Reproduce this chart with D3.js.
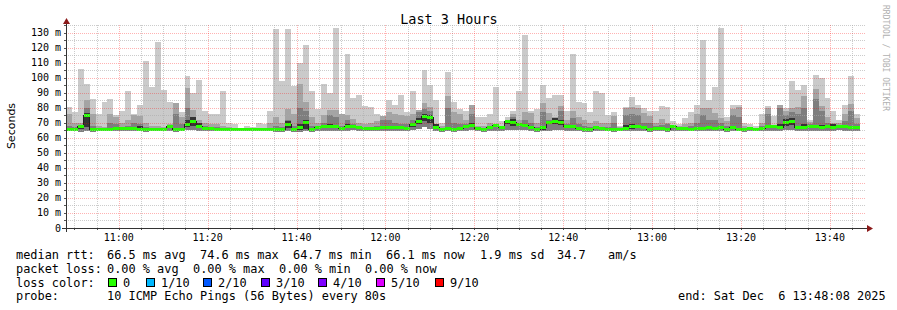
<!DOCTYPE html>
<html>
<head>
<meta charset="utf-8">
<script src="https://cdnjs.cloudflare.com/ajax/libs/d3/7.8.5/d3.min.js"></script>
<style>
  body { margin: 0; background: #fff; }
  text { font-family: "DejaVu Sans Mono", monospace; fill: #000; }
</style>
</head>
<body>
<svg id="chart" width="897" height="310"></svg>
<script>
// Median rtt per 80s step (ms)
const median = [
  65.6, 65.6, 67.4, 74.8, 65.6, 65.6, 65.8, 65.6, 66.0, 66.0, 66.2, 66.4, 65.8, 65.6, 65.6,
  65.6, 65.6, 67.4, 65.8, 65.6, 68.6, 71.1, 67.4, 66.5, 66.0, 65.6, 65.6, 65.6, 65.6, 65.4,
  65.6, 65.6, 65.6, 65.6, 65.6, 65.8, 65.6, 68.8, 65.6, 66.7, 70.0, 65.6, 66.7, 67.4, 67.8,
  67.8, 66.1, 67.8, 67.4, 66.7, 66.1, 66.1, 66.3, 66.7, 67.0, 66.7, 66.7, 66.1, 68.7, 71.1,
  74.4, 73.3, 66.7, 65.6, 66.1, 65.6, 66.1, 67.8, 68.3, 66.1, 65.2, 66.7, 68.3, 66.7, 71.1,
  70.0, 68.7, 68.3, 66.7, 65.2, 66.7, 70.0, 71.1, 70.4, 67.8, 67.4, 66.5, 65.6, 65.2, 66.7,
  66.1, 65.6, 65.2, 65.6, 66.1, 67.8, 67.8, 66.7, 65.2, 66.1, 66.5, 65.2, 67.8, 66.1, 66.1,
  65.6, 66.5, 66.1, 66.9, 66.5, 66.7, 65.6, 66.9, 65.6, 65.6, 66.1, 65.6, 66.5, 67.8, 67.4,
  66.7, 70.0, 71.1, 66.7, 66.7, 67.8, 67.4, 66.7, 67.4, 66.7, 67.8, 67.4, 66.7, 66.7
];

// Slowest ping of each step (top of the light smoke)
const maxRtt = [
  80.5, 77, 106, 96, 86, 75.5, 84, 85.6, 75, 78, 91, 75.7, 82, 110.8, 93.6,
  124, 91.6, 84, 83, 77, 100.8, 90, 98.7, 77.7, 75.6, 76, 91, 69.6, 69, 66,
  67.8, 67, 69.6, 69, 78, 132.6, 97.5, 132.6, 94.7, 109.7, 121.8, 91, 79, 96, 90,
  132.8, 76, 116, 86.5, 88.3, 81, 80.5, 75.5, 72.6, 85, 81.5, 88.7, 77, 91, 76,
  104.8, 95, 85.4, 70, 103.5, 84, 79, 77.7, 81.5, 74, 74, 76, 93.6, 71, 74,
  78, 91, 128.4, 77.7, 79, 95, 86.5, 88.7, 88.7, 77.7, 116, 84, 83, 77, 91,
  90, 74.9, 77, 67.8, 80.5, 87.2, 82, 80, 77.7, 77.7, 81, 80.5, 71, 69, 73,
  77, 82, 125, 85, 93.6, 132.7, 74, 82, 82, 70, 69, 68, 75.6, 81, 74.5,
  81.5, 80, 97.5, 91.6, 95, 72, 102, 99.5, 86.5, 77.7, 72, 81.5, 100.8, 76
];

// 9th of 10 pings (top of the mid grey smoke)
const ping9 = [
  76, 70, 70, 85, 75.5, 68, 67, 76, 74, 70, 72, 75, 74.4, 70, 68,
  68, 67, 69, 83, 74, 93, 78.7, 72, 70, 69, 69, 68, 67, 66.5, 65.9,
  66.5, 66.5, 66.5, 66.5, 70, 74, 70, 79, 75.5, 96, 84, 74, 70, 75, 78.7,
  78.7, 76, 75, 72.5, 70, 69, 70, 71, 74.4, 77, 75.5, 75, 74.4, 76, 78.7,
  83, 80.5, 69, 67.8, 87.6, 77, 75.5, 72, 81.5, 68, 67.8, 70, 69, 67.8, 71.5,
  76, 72, 77, 76.6, 70, 83, 76.6, 74, 81, 72, 77.8, 74, 72, 70, 71,
  70, 70, 74.8, 67.4, 79.9, 80.5, 79.9, 76.6, 74.8, 70, 72.7, 70, 68.7, 67.8, 68.9,
  70, 75.6, 79.9, 79.9, 76.3, 73.3, 71.1, 79.2, 80.5, 67.8, 67.4, 66.7, 70, 79.9, 67.8,
  81.5, 78, 79.9, 80.5, 88.1, 70.4, 92.5, 81, 73.9, 70, 70, 75.6, 82.2, 73.3
];

// 8th of 10 pings (top of the dark grey smoke)
const ping8 = [
  68, 67, 68.5, 80, 68, 66.5, 66.5, 70, 69, 67.5, 68, 70, 69, 67, 66.5,
  66.5, 66.5, 68, 75.5, 69, 80, 74, 69, 68, 67, 67, 66.5, 66.5, 66, 65.8,
  66, 66, 66, 66, 66.5, 68, 67, 72, 68, 80, 78, 68, 67, 70, 75,
  74, 68, 72, 69, 67.5, 67, 67, 68, 72, 72, 70, 69, 69, 72, 77,
  79, 78, 67.5, 66.5, 80, 70, 69, 69, 76, 67, 66.5, 68, 68.8, 67.5, 71.4,
  73.5, 70, 72, 70, 67, 77, 72, 73, 78, 69, 73, 69, 68, 67, 68,
  67, 67, 70, 66.8, 75, 76, 75, 70, 70, 68, 68.5, 69, 68.2, 67, 67,
  68, 70, 75, 72, 72, 70, 68, 75, 74, 66.8, 66.8, 66.2, 68, 76, 67.6,
  80, 75, 77, 76, 80, 69, 86, 78, 70, 68, 68.5, 71, 78, 69
];

// Fastest ping of each step (bottom of the smoke)
const minRtt = [
  64.2, 64.5, 64.0, 64.8, 64.0, 64.3, 64.5, 64.2, 64.6, 64.4, 64.5, 64.8, 64.2, 64.0, 64.4,
  64.5, 64.3, 64.8, 64.0, 64.2, 65.0, 65.5, 64.8, 64.5, 64.3, 64.4, 64.2, 64.5, 64.4, 64.3,
  64.5, 64.4, 64.2, 64.4, 64.3, 64.1, 64.0, 64.5, 64.0, 63.9, 64.2, 64.0, 64.3, 64.5, 64.8,
  64.6, 64.3, 64.8, 64.9, 64.5, 64.3, 64.2, 64.4, 64.7, 64.6, 64.5, 64.8, 64.3, 65.2, 66.0,
  67.5, 66.0, 64.6, 64.0, 64.2, 64.1, 64.4, 64.8, 65.0, 64.4, 64.0, 64.5, 64.8, 64.5, 65.2,
  65.0, 65.3, 64.9, 64.6, 64.0, 64.5, 64.8, 65.0, 64.9, 64.6, 64.5, 64.4, 64.0, 63.9, 64.5,
  64.3, 64.2, 64.0, 64.3, 64.5, 64.8, 64.7, 64.5, 64.0, 64.4, 64.6, 63.9, 64.8, 64.5, 64.3,
  64.2, 64.6, 64.3, 64.7, 64.5, 64.5, 64.0, 64.6, 64.2, 64.1, 64.4, 64.3, 64.5, 64.8, 64.6,
  64.4, 65.0, 65.5, 64.5, 64.6, 64.8, 64.7, 64.4, 64.8, 64.5, 64.9, 64.6, 64.4, 64.5
];

// Darkest smoke blocks around the median: [step, low ms, high ms]
const coreBlocks = [
  [2, 66, 67.5], [3, 67, 76.5], [12, 66, 68], [20, 67, 72], [21, 68, 74], [22, 66.5, 70],
  [37, 66.5, 71], [39, 65.5, 69], [40, 66, 72], [44, 66.5, 69], [47, 66.5, 69], [54, 66, 68],
  [58, 67, 70], [59, 69, 73], [60, 71, 76], [61, 70, 75], [62, 66, 69], [68, 67, 70],
  [74, 69, 72], [75, 68, 72.5], [80, 65.5, 68], [82, 69, 73], [83, 68.5, 72], [94, 66.5, 68.5],
  [95, 66, 69], [120, 66.5, 69], [121, 68, 72.5], [122, 68.5, 73], [124, 66, 69],
  [127, 66, 68.5], [129, 66, 69], [132, 66, 68]
];

// Axis labels
const yTickValues = [0, 10, 20, 30, 40, 50, 60, 70, 80, 90, 100, 110, 120, 130];
const yTickLabels = ['0', '10 m', '20 m', '30 m', '40 m', '50 m', '60 m', '70 m',
  '80 m', '90 m', '100 m', '110 m', '120 m', '130 m'];
const xTickLabels = ['11:00', '11:20', '11:40', '12:00', '12:20', '12:40', '13:00', '13:20', '13:40'];

// Loss colour legend
const lossLabels = ['0', '1/10', '2/10', '3/10', '4/10', '5/10', '9/10'];
const lossColors = ['#26ff00', '#00b8ff', '#0059ff', '#5e00ff', '#7e00ff', '#dd00ff', '#ff0000'];

// Time window
const startTime = Date.UTC(2025, 11, 6, 10, 48, 8);
const endTime = Date.UTC(2025, 11, 6, 13, 48, 8);
const stepMs = 80 * 1000;

const svg = d3.select('#chart');

// Plot area
const plot = { left: 66, right: 866, top: 25, bottom: 228 };

const x = d3.scaleUtc()
  .domain([new Date(startTime), new Date(endTime)])
  .range([plot.left, plot.right]);

const y = d3.scaleLinear()
  .domain([0, 135])
  .range([plot.bottom, plot.top]);

// One row per measurement step
const rows = median.map((m, i) => ({
  t0: new Date(startTime + i * stepMs),
  t1: new Date(startTime + (i + 1) * stepMs),
  median: m,
  max: maxRtt[i],
  p9: ping9[i],
  p8: ping8[i],
  lo: minRtt[i]
}));

const smoke = svg.append('g').attr('shape-rendering', 'crispEdges');

// Smoke layers, lightest first
const layers = [
  { key: 'max', color: '#cacaca' },
  { key: 'p9', color: '#a4a4a4' },
  { key: 'p8', color: '#7e7e7e' }
];

layers.forEach(layer => {
  smoke.append('g')
    .selectAll('rect')
    .data(rows)
    .enter().append('rect')
    .attr('x', d => x(d.t0))
    .attr('width', d => x(d.t1) - x(d.t0))
    .attr('y', d => y(d[layer.key]))
    .attr('height', d => y(d.lo) - y(d[layer.key]))
    .attr('fill', layer.color);
});

smoke.append('g')
  .selectAll('rect')
  .data(coreBlocks)
  .enter().append('rect')
  .attr('x', d => x(rows[d[0]].t0))
  .attr('width', d => x(rows[d[0]].t1) - x(rows[d[0]].t0))
  .attr('y', d => y(d[2]))
  .attr('height', d => y(d[1]) - y(d[2]))
  .attr('fill', '#343434');

// Median as a step line
const stepPoints = rows.map(d => [d.t0, d.median]);
stepPoints.push([rows[rows.length - 1].t1, rows[rows.length - 1].median]);

svg.append('path')
  .datum(stepPoints)
  .attr('fill', 'none')
  .attr('stroke', '#202020')
  .attr('stroke-width', 1)
  .attr('shape-rendering', 'crispEdges')
  .attr('d', d3.line().x(d => x(d[0])).y(d => y(d[1])).curve(d3.curveStepAfter));

// Loss coloured band on the median (all 0 loss here)
svg.append('g')
  .attr('shape-rendering', 'crispEdges')
  .selectAll('rect')
  .data(rows)
  .enter().append('rect')
  .attr('x', d => x(d.t0))
  .attr('width', d => x(d.t1) - x(d.t0))
  .attr('y', d => y(d.median) - 1.5)
  .attr('height', 3)
  .attr('fill', lossColors[0]);

// Grid, drawn on top like rrdtool
const grid = svg.append('g').attr('shape-rendering', 'crispEdges');

const minorTimes = x.ticks(d3.utcMinute.every(5));
const majorTimes = x.ticks(d3.utcMinute.every(20));
const yMinor = d3.range(5, 136, 10);

grid.selectAll('.vminor')
  .data(minorTimes.filter(t => t.getUTCMinutes() % 20 !== 0))
  .enter().append('line')
  .attr('x1', d => Math.round(x(d)) + 0.5)
  .attr('x2', d => Math.round(x(d)) + 0.5)
  .attr('y1', plot.top)
  .attr('y2', plot.bottom)
  .attr('stroke', 'rgba(170,170,170,0.6)')
  .attr('stroke-dasharray', '1,1');

grid.selectAll('.hminor')
  .data(yMinor)
  .enter().append('line')
  .attr('x1', plot.left)
  .attr('x2', plot.right)
  .attr('y1', d => Math.round(y(d)) + 0.5)
  .attr('y2', d => Math.round(y(d)) + 0.5)
  .attr('stroke', 'rgba(170,170,170,0.6)')
  .attr('stroke-dasharray', '1,1');

grid.selectAll('.vmajor')
  .data(majorTimes)
  .enter().append('line')
  .attr('x1', d => Math.round(x(d)) + 0.5)
  .attr('x2', d => Math.round(x(d)) + 0.5)
  .attr('y1', plot.top)
  .attr('y2', plot.bottom)
  .attr('stroke', 'rgba(255,0,0,0.3)')
  .attr('stroke-dasharray', '1,1');

grid.selectAll('.hmajor')
  .data(yTickValues.filter(v => v > 0))
  .enter().append('line')
  .attr('x1', plot.left)
  .attr('x2', plot.right)
  .attr('y1', d => Math.round(y(d)) + 0.5)
  .attr('y2', d => Math.round(y(d)) + 0.5)
  .attr('stroke', 'rgba(255,0,0,0.3)')
  .attr('stroke-dasharray', '1,1');

// Axis ticks
grid.selectAll('.ytick')
  .data(yTickValues.concat(yMinor))
  .enter().append('line')
  .attr('x1', plot.left - 2)
  .attr('x2', plot.left)
  .attr('y1', d => Math.round(y(d)) + 0.5)
  .attr('y2', d => Math.round(y(d)) + 0.5)
  .attr('stroke', '#555');

grid.selectAll('.xtick')
  .data(minorTimes)
  .enter().append('line')
  .attr('x1', d => Math.round(x(d)) + 0.5)
  .attr('x2', d => Math.round(x(d)) + 0.5)
  .attr('y1', plot.bottom)
  .attr('y2', plot.bottom + 2)
  .attr('stroke', '#555');

// Axis lines and arrows
grid.append('line')
  .attr('x1', plot.left - 4).attr('x2', plot.right + 2)
  .attr('y1', plot.bottom + 0.5).attr('y2', plot.bottom + 0.5)
  .attr('stroke', '#333');

grid.append('line')
  .attr('x1', plot.left + 0.5).attr('x2', plot.left + 0.5)
  .attr('y1', plot.bottom + 4).attr('y2', plot.top - 2)
  .attr('stroke', '#333');

svg.append('path')
  .attr('d', `M${plot.right + 1},${plot.bottom - 3}L${plot.right + 7},${plot.bottom + 0.5}L${plot.right + 1},${plot.bottom + 4}Z`)
  .attr('fill', '#8b1a1a');

svg.append('path')
  .attr('d', `M${plot.left - 3},${plot.top - 1}L${plot.left + 0.5},${plot.top - 7}L${plot.left + 4},${plot.top - 1}Z`)
  .attr('fill', '#8b1a1a');

// Axis labels
svg.selectAll('.ylabel')
  .data(yTickValues)
  .enter().append('text')
  .attr('x', 61)
  .attr('y', d => y(d) + 3.5)
  .attr('text-anchor', 'end')
  .style('font-size', '10px')
  .text((d, i) => yTickLabels[i]);

const parseLabel = s => Date.UTC(2025, 11, 6, +s.slice(0, 2), +s.slice(3, 5), 0);

svg.selectAll('.xlabel')
  .data(xTickLabels)
  .enter().append('text')
  .attr('x', d => x(new Date(parseLabel(d))))
  .attr('y', 241)
  .attr('text-anchor', 'middle')
  .style('font-size', '10px')
  .text(d => d);

// Title and side texts
svg.append('text')
  .attr('x', 449)
  .attr('y', 24)
  .attr('text-anchor', 'middle')
  .style('font-size', '13.5px')
  .text('Last 3 Hours');

svg.append('text')
  .attr('transform', 'translate(15,126) rotate(-90)')
  .attr('text-anchor', 'middle')
  .style('font-family', '"DejaVu Sans", sans-serif')
  .style('font-size', '11px')
  .text('Seconds');

svg.append('text')
  .attr('transform', 'translate(883,5) rotate(90)')
  .style('font-size', '8px')
  .style('fill', '#b0b0b0')
  .text('RRDTOOL / TOBI OETIKER');

// Legend block
const legendFont = '11.9px';
const legendLines = [
  { y: 259, items: [[16, 'median rtt:'], [107, '66.5 ms avg'], [200, '74.6 ms max'], [293, '64.7 ms min'],
    [386, '66.1 ms now'], [480, '1.9 ms sd'], [557, '34.7'], [608, 'am/s']] },
  { y: 272.5, items: [[16, 'packet loss:'], [107, '0.00 % avg'], [193, '0.00 % max'], [279, '0.00 % min'],
    [365, '0.00 % now']] },
  { y: 286.5, items: [[16, 'loss color:']] },
  { y: 300, items: [[16, 'probe:'], [107, '10 ICMP Echo Pings (56 Bytes) every 80s'],
    [678, 'end: Sat Dec  6 13:48:08 2025']] }
];

legendLines.forEach(line => {
  line.items.forEach(item => {
    svg.append('text')
      .attr('x', item[0])
      .attr('y', line.y)
      .style('font-size', legendFont)
      .style('white-space', 'pre')
      .text(item[1]);
  });
});

const swatchX = [108, 146, 203, 261, 318, 376, 435];

const swatches = svg.append('g').attr('shape-rendering', 'crispEdges');

swatches.selectAll('rect')
  .data(lossLabels)
  .enter().append('rect')
  .attr('x', (d, i) => swatchX[i] + 0.5)
  .attr('y', 278.5)
  .attr('width', 8)
  .attr('height', 8)
  .attr('fill', (d, i) => lossColors[i])
  .attr('stroke', '#000');

svg.selectAll('.losslabel')
  .data(lossLabels)
  .enter().append('text')
  .attr('x', (d, i) => swatchX[i] + 15)
  .attr('y', 286.5)
  .style('font-size', legendFont)
  .text(d => d);
</script>
</body>
</html>
